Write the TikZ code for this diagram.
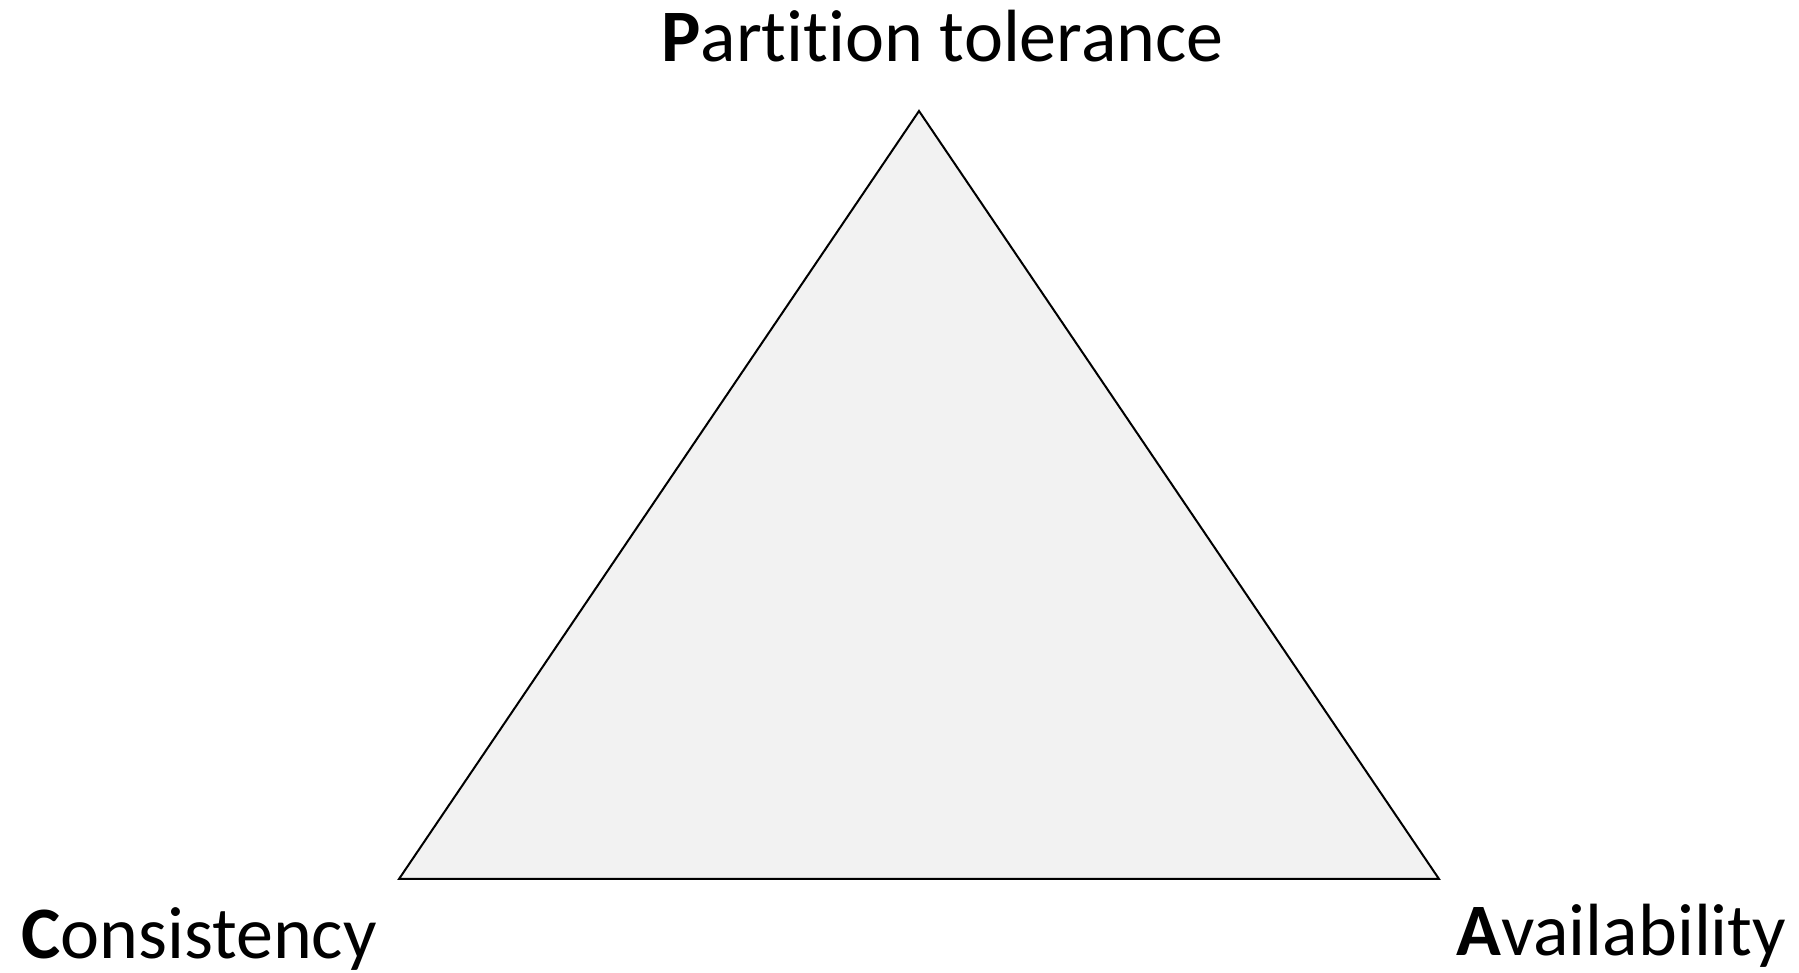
\documentclass[tikz,border=0pt]{standalone}
\usepackage{fontspec}
\setmainfont[Ligatures={NoCommon,NoRequired,NoContextual}]{Carlito}
\definecolor{trifill}{HTML}{F2F2F2}
\begin{document}
\begin{tikzpicture}[x=1pt,y=1pt,
  lbl/.style={inner sep=0pt,font=\fontsize{74}{80}\selectfont,text=black},
  tri/.style={draw=black,line width=2pt,fill=trifill,line join=miter}]
\useasboundingbox (0,0) rectangle (1799,972);
\coordinate (P) at (919,861);
\coordinate (C) at (399,93);
\coordinate (A) at (1439,93);
\draw[tri] (P) -- (A) -- (C) -- cycle;
\node[lbl,anchor=base west] (pt) at (661,910) {\textbf{P}artition tolerance};
\node[lbl,anchor=base west] (ct) at (21,14) {\textbf{C}onsistency};
\node[lbl,anchor=base west] (at) at (1456,17) {\textbf{A}vailability};
\end{tikzpicture}
\end{document}
